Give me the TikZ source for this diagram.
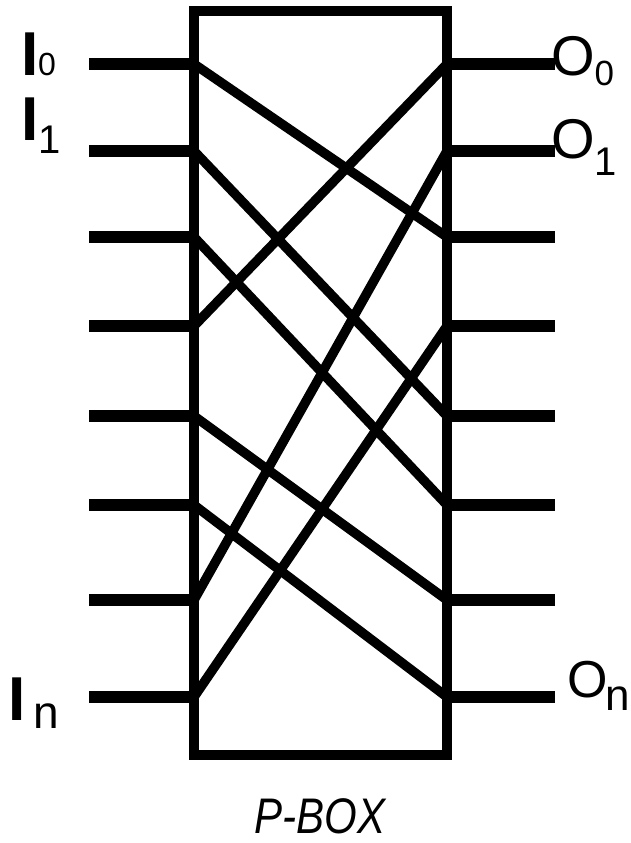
\documentclass[tikz,border=0pt]{standalone}
\usepackage{fontspec}
\setmainfont{Liberation Sans}
\newcommand\bigI{\fontsize{62}{62}\selectfont\bfseries I}
\newcommand\bigO{\fontsize{56}{56}\selectfont O}
\begin{document}
\begin{tikzpicture}[x=1pt,y=-1pt,
  stub/.style={line width=12pt},
  wire/.style={line width=9.5pt},
  frame/.style={draw, line width=10pt, inner sep=0pt, outer sep=0pt},
  lab/.style={anchor=base west, inner sep=0pt, outer sep=0pt}]
\useasboundingbox (0,0) rectangle (631,843);
% port coordinates
\foreach \y [count=\i from 0] in {64,151,237,326,416,505,600,697} {
  \coordinate (L\i) at (194,\y);
  \coordinate (R\i) at (447,\y);
  \coordinate (A\i) at (89,\y);
  \coordinate (B\i) at (555,\y);
}
% permutation wires
\foreach \a/\b in {0/2,1/4,2/5,3/0,4/6,5/7,6/1,7/3}
  \draw[wire] (L\a) -- (R\b);
% box
\node[frame, minimum width=253pt, minimum height=744pt] (box) at (320.5,383) {};
% stubs
\foreach \i in {0,...,7} {
  \draw[stub] (A\i) -- (L\i);
  \draw[stub] (R\i) -- (B\i);
}
% labels
\node[lab] (I0) at (21,76) {{\bigI}{\fontsize{32}{32}\selectfont 0}};
\node[lab] (I1) at (21,140) {{\bigI}\raisebox{-13pt}{\fontsize{40}{40}\selectfont 1}};
\node[lab] (In) at (9,720) {{\bigI}\hspace{7pt}\raisebox{-8pt}{\fontsize{46}{46}\selectfont n}};
\node[lab] (O0) at (551,75) {{\bigO}\raisebox{-10pt}{\fontsize{35}{35}\selectfont 0}};
\node[lab] (O1) at (551,158) {{\bigO}\raisebox{-17pt}{\fontsize{40}{40}\selectfont 1}};
\node[lab] (On) at (567,697) {{\fontsize{52}{52}\selectfont O}\hspace{-2pt}\raisebox{-13pt}{\fontsize{44}{44}\selectfont n}};
\node[anchor=base, inner sep=0pt] (title) at (320,833) {\scalebox{0.84}[1]{\fontsize{50}{50}\selectfont\itshape P-BOX}};
\end{tikzpicture}
\end{document}
